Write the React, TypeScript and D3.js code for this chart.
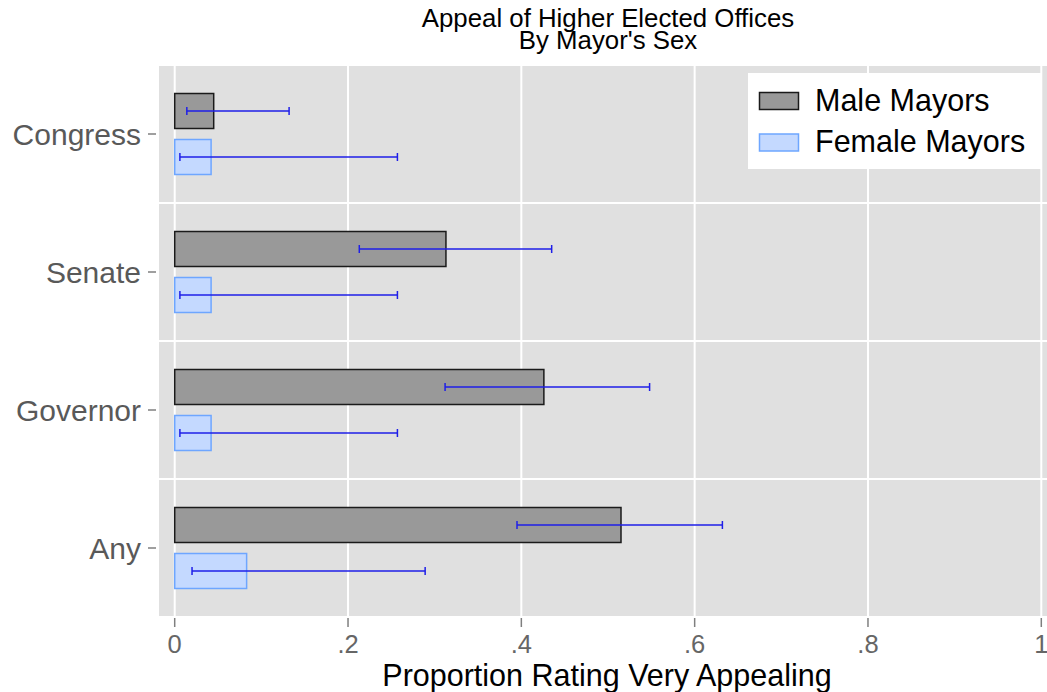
import React from "react";
import * as d3 from "d3";

const categories = ["Congress", "Senate", "Governor", "Any"];
const seriesNames = ["Male Mayors", "Female Mayors"];
const maleValues = [0.045, 0.313, 0.426, 0.515];
const femaleValues = [0.042, 0.042, 0.042, 0.083];
const maleLow = [0.014, 0.213, 0.312, 0.395];
const maleHigh = [0.132, 0.435, 0.548, 0.632];
const femaleLow = [0.006, 0.006, 0.006, 0.02];
const femaleHigh = [0.257, 0.257, 0.257, 0.289];
const xTicks = [0, 0.2, 0.4, 0.6, 0.8, 1];
const xTickLabels = ["0", ".2", ".4", ".6", ".8", "1"];

const W = 1047;
const H = 692;
const FONT = "'Liberation Sans', Arial, Helvetica, sans-serif";

const styles = [
  { fill: "#999999", stroke: "#1a1a1a" },
  { fill: "#c4d9ff", stroke: "#6ea6ff" },
];

export default function App() {
  const panel = { x0: 159, x1: 1047, y0: 66, y1: 616 };
  const x = d3.scaleLinear().domain([0, 1]).range([174.7, 1041.3]);
  const y = d3.scaleBand<string>().domain(categories).range([65, 617]).paddingInner(0).paddingOuter(0);
  const inner = d3.scaleBand<string>().domain(seriesNames).range([-40.5, 40.5]).paddingInner(0.239).paddingOuter(0);

  const series = [
    { name: seriesNames[0], vals: maleValues, lo: maleLow, hi: maleHigh },
    { name: seriesNames[1], vals: femaleValues, lo: femaleLow, hi: femaleHigh },
  ];

  const errColor = "#1f1fe8";

  return (
    <svg width={W} height={H} style={{ position: "absolute", left: 0, top: 0, background: "#fff" }} fontFamily={FONT}>
      <rect x={0} y={0} width={W} height={H} fill="#ffffff" />
      {/* title */}
      <text x={608} y={26.5} textAnchor="middle" fontSize={25.8} fill="#000">Appeal of Higher Elected Offices</text>
      <text x={608} y={48.5} textAnchor="middle" fontSize={25.8} fill="#000">By Mayor's Sex</text>

      {/* panel */}
      <rect x={panel.x0} y={panel.y0} width={panel.x1 - panel.x0} height={panel.y1 - panel.y0} fill="#e0e0e0" />
      {xTicks.map((t, i) => (
        <line key={"gx" + i} x1={x(t)} x2={x(t)} y1={panel.y0} y2={panel.y1} stroke="#ffffff" strokeWidth={2} />
      ))}
      {categories.slice(1).map((c) => (
        <line key={"gy" + c} x1={panel.x0} x2={panel.x1} y1={y(c)!} y2={y(c)!} stroke="#ffffff" strokeWidth={2} />
      ))}

      {/* bars */}
      {categories.map((c, ci) => {
        const center = y(c)! + y.bandwidth() / 2;
        return (
          <g key={"cat" + c}>
            {series.map((s, si) => {
              const by = center + inner(s.name)!;
              return (
                <rect
                  key={"bar" + si}
                  x={x(0)}
                  y={by}
                  width={x(s.vals[ci]) - x(0)}
                  height={inner.bandwidth()}
                  fill={styles[si].fill}
                  stroke={styles[si].stroke}
                  strokeWidth={1.5}
                />
              );
            })}
            {series.map((s, si) => {
              const ey = center + inner(s.name)! + inner.bandwidth() / 2;
              const xl = x(s.lo[ci]);
              const xh = x(s.hi[ci]);
              return (
                <g key={"err" + si} stroke={errColor} strokeWidth={1.5}>
                  <line x1={xl} x2={xh} y1={ey} y2={ey} />
                  <line x1={xl} x2={xl} y1={ey - 4} y2={ey + 4} />
                  <line x1={xh} x2={xh} y1={ey - 4} y2={ey + 4} />
                </g>
              );
            })}
          </g>
        );
      })}

      {/* y axis */}
      {categories.map((c) => {
        const center = y(c)! + y.bandwidth() / 2;
        return (
          <g key={"yt" + c}>
            <line x1={148} x2={156} y1={center} y2={center} stroke="#7f7f7f" strokeWidth={1.5} />
            <text x={141} y={center + 11} textAnchor="end" fontSize={30} fill="#595959">{c}</text>
          </g>
        );
      })}

      {/* x axis */}
      {xTicks.map((t, i) => (
        <g key={"xt" + i}>
          <line x1={x(t)} x2={x(t)} y1={618} y2={627} stroke="#7f7f7f" strokeWidth={1.5} />
          <text x={x(t)} y={653} textAnchor="middle" fontSize={25.5} fill="#666666">{xTickLabels[i]}</text>
        </g>
      ))}
      <text x={607} y={685.5} textAnchor="middle" fontSize={30.5} fill="#000">Proportion Rating Very Appealing</text>

      {/* legend */}
      <rect x={748} y={73} width={294} height={96} fill="#ffffff" />
      {series.map((s, si) => {
        const ky = [92.5, 134][si];
        const ty = [110.7, 152][si];
        return (
          <g key={"lg" + si}>
            <rect x={759.5} y={ky} width={39} height={17} fill={styles[si].fill} stroke={styles[si].stroke} strokeWidth={1.5} />
            <text x={815} y={ty} fontSize={30.5} fill="#000">{s.name}</text>
          </g>
        );
      })}
    </svg>
  );
}
